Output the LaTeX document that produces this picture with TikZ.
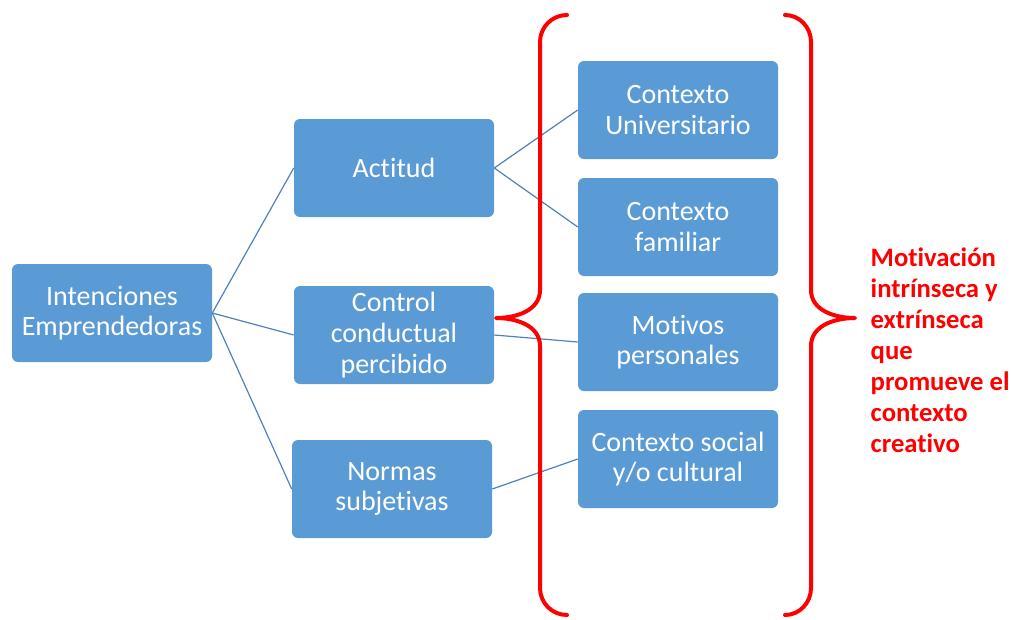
\documentclass[tikz,border=0pt]{standalone}
\usepackage{fontspec}
\setmainfont{Carlito}[Ligatures={NoCommon}]
\definecolor{boxblue}{HTML}{5B9BD5}
\definecolor{lineblue}{HTML}{4F81BD}
\definecolor{bracered}{HTML}{FF0000}
\tikzset{
	box/.style={fill=boxblue, rounded corners=4.5pt, minimum width=150pt, minimum height=73.5pt,
		inner sep=2pt, align=center, text=white, font=\fontsize{21}{23}\selectfont},
	link/.style={lineblue, line width=0.9pt},
	brace/.style={bracered, line width=3pt, line cap=round, line join=round}
}
\begin{document}
\begin{tikzpicture}[x=0.75pt, y=-0.75pt]
	\useasboundingbox (0, 0) rectangle (1011, 619);
	
	% left column
	\node[box] (int) at (112, 313) {Intenciones\\Emprendedoras};
	
	% middle column
	\node[box] (act) at (394, 168) {Actitud};
	\node[box] (ctrl) at (394, 335) {Control\\conductual\\percibido};
	\node[box] (norm) at (392, 489) {Normas\\subjetivas};
	
	% right column
	\node[box] (univ) at (678, 110) {Contexto\\Universitario};
	\node[box] (fam) at (678, 227) {Contexto\\familiar};
	\node[box] (mot) at (678, 342) {Motivos\\personales};
	\node[box] (soc) at (678, 459) {Contexto social\\y/o cultural};
	
	\foreach \m in {act, ctrl, norm}
		\draw[link] (int.east) -- (\m.west);
	\foreach \r in {univ, fam}
		\draw[link] (act.east) -- (\r.west);
	\draw[link] (ctrl.east) -- (mot.west);
	\draw[link] (norm.east) -- (soc.west);
	
	% braces
	\draw[brace] (567, 15) to[out=180, in=90] (540, 42) -- (540, 290)
		to[out=-90, in=0] (496, 318) to[out=0, in=90] (540, 346)
		-- (540, 588) to[out=-90, in=180] (567, 615);
	\draw[brace] (785, 15) to[out=0, in=90] (811, 42) -- (811, 290)
		to[out=-90, in=180] (855, 318) to[out=180, in=90] (811, 346)
		-- (811, 588) to[out=-90, in=0] (785, 615);
	
	\node[anchor=west, align=left, text=bracered, font=\bfseries\fontsize{20}{23.3}\selectfont] (mtv) at (866, 350)
		{Motivación\\intrínseca y\\extrínseca\\que\\promueve el\\contexto\\creativo};
\end{tikzpicture}
\end{document}
